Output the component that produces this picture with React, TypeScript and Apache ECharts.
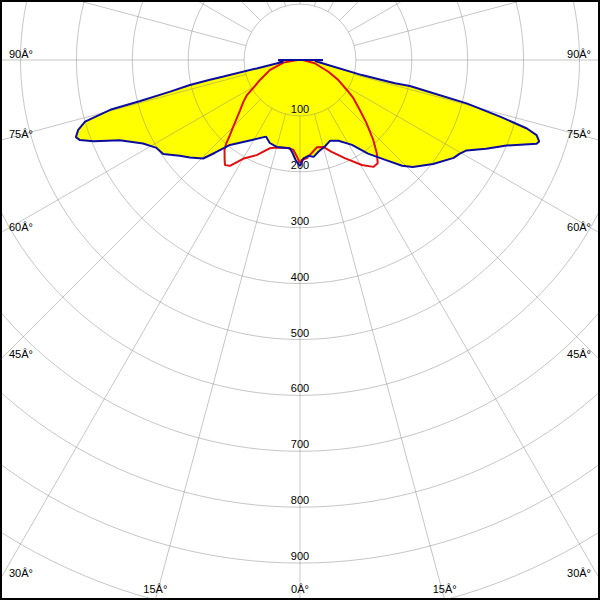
import React, { useEffect, useRef } from "react";
import * as echarts from "echarts";

// Radial (cd/klm) tick labels drawn along the 0° spoke
const radialTicks = [100, 200, 300, 400, 500, 600, 700, 800, 900];
// Angle labels written at the frame edge
const angleLabels = [0, 15, 30, 45, 60, 75, 90];
const degreeSuffix = "Â°";
// Spokes every 15°, starting at the 100 circle
const spokeAngles = Array.from({ length: 24 }, (_, i) => i * 15);
const spokeStart = 100;
const radiusMax = 1200;

// Blue curve (filled yellow) – left half: gamma (deg from nadir) and value
const blueLeftGamma = [0, 2.5, 5, 6.5, 15, 20, 24, 31, 39.5, 42.5, 44.5, 48.5, 51.5, 55.5, 58.5, 62, 66, 68.5, 70, 71, 72.5, 74, 75.3, 75.6, 76.3, 77.2, 77.6, 77.8, 79, 84, 90];
const blueLeftValue = [190, 179, 165, 159, 161, 158, 150, 167, 197, 225, 247, 263, 275, 297, 301, 318, 353, 397, 419, 424, 416, 400, 351, 295, 239, 202, 165, 140, 79, 30, 39];
// Blue curve – right half
const blueRightGamma = [0, 2, 5, 8, 11.5, 16, 20.5, 25.5, 31.5, 36, 40.5, 44, 46.5, 52, 57.5, 59.5, 61.5, 64.5, 67.5, 70.5, 71.2, 72.4, 73.2, 74.2, 75.4, 76, 76.7, 76.2, 76.3, 80, 86, 90];
const blueRightValue = [190, 176, 172, 175, 167, 161, 154, 160, 178, 207, 235, 263, 278, 302, 326, 331, 339, 369, 400, 449, 452, 444, 424, 372, 308, 246, 202, 175, 114, 51, 27, 41];

// Red curve – left half
const redLeftGamma = [0, 2, 4.3, 8.6, 15, 19, 24.5, 30, 33.5, 35.5, 37, 40, 41.5, 43, 46, 50, 53.5, 56.5, 59, 63.5, 71.5, 81, 90];
const redLeftValue = [184, 172, 161, 159, 162, 167, 187, 204, 227, 231, 224, 210, 199, 184, 162, 140, 126, 114, 98, 80, 57, 30, 5];
// Red curve – right half
const redRightGamma = [0, 1, 4, 7, 11, 15, 19, 24.5, 30.5, 34.5, 37, 39.5, 42.5, 46.5, 50, 54.5, 57.5, 62.5, 67.5, 77.5, 90];
const redRightValue = [184, 179, 176, 168, 159, 161, 174, 193, 218, 232, 231, 216, 194, 164, 140, 117, 99, 77, 55, 27, 5];

// polar data items are [radius value, angle value]; left side angle = gamma, right side = 360 - gamma
function buildPath(
  lg: number[], lv: number[], rg: number[], rv: number[], throughCenter: boolean
): number[][] {
  const pts: number[][] = [];
  for (let i = 0; i < lg.length; i++) pts.push([lv[i], lg[i]]);
  if (throughCenter) pts.push([0, 90]);
  for (let i = rg.length - 1; i >= 0; i--) pts.push([rv[i], 360 - rg[i]]);
  return pts;
}

const W = 600;
const H = 600;
const CX = 300;
const CY = 60;
const R_OUT = 670.8;
const FONT = "11px 'Liberation Sans', Arial, sans-serif";
const GRID = "rgba(128,128,128,0.45)";

export default function App() {
  const ref = useRef<HTMLDivElement>(null);

  useEffect(() => {
    const chart = echarts.init(ref.current!, null, { renderer: "svg" });
    const bluePath = buildPath(blueLeftGamma, blueLeftValue, blueRightGamma, blueRightValue, true);
    const redPath = buildPath(redLeftGamma, redLeftValue, redRightGamma, redRightValue, false);

    // angle labels at the frame edges
    const texts: any[] = [];
    angleLabels.forEach((g) => {
      const sides = g === 0 ? [0] : [-1, 1];
      sides.forEach((side) => {
        const rad = (g * Math.PI) / 180;
        const dx = Math.sin(rad);
        const dy = Math.cos(rad);
        const tSide = dx > 1e-9 ? W / 2 / dx : Infinity;
        const tBottom = dy > 1e-9 ? (H - CY) / dy : Infinity;
        let x: number, y: number, align: string;
        if (tSide <= tBottom) {
          x = side < 0 ? 9 : W - 9;
          y = CY + tSide * dy - 6.5;
          align = side < 0 ? "left" : "right";
        } else {
          x = CX + side * tBottom * dx;
          y = H - 11;
          align = "center";
        }
        texts.push({
          type: "text",
          x,
          y,
          z: 10,
          style: { text: g + degreeSuffix, font: FONT, fill: "#000", align, verticalAlign: "middle" },
        });
      });
    });

    chart.setOption({
      animation: false,
      backgroundColor: "#ffffff",
      polar: { center: [CX, CY], radius: [0, R_OUT] },
      angleAxis: {
        type: "value",
        min: 0,
        max: 360,
        interval: 15,
        startAngle: 270,
        clockwise: true,
        z: 1,
        axisLine: { show: false },
        axisTick: { show: false },
        axisLabel: { show: false },
        splitLine: { show: false },
      },
      radiusAxis: {
        type: "value",
        min: 0,
        max: radiusMax,
        interval: 100,
        z: 1,
        axisLine: { show: false },
        axisTick: { show: false },
        axisLabel: { show: false },
        splitLine: { show: true, lineStyle: { color: GRID, width: 1 } },
      },
      series: [
        {
          type: "custom",
          coordinateSystem: "polar",
          z: 0,
          silent: true,
          data: [[0, 0]],
          renderItem: (_p: any, api: any) => ({
            type: "polygon",
            shape: { points: bluePath.map((p) => api.coord(p).slice(0, 2)) },
            style: { fill: "#ffff00", stroke: "none" },
          }),
        },
        {
          type: "custom",
          coordinateSystem: "polar",
          z: 1,
          silent: true,
          data: spokeAngles.map((a) => [spokeStart, a]),
          renderItem: (_p: any, api: any) => {
            const a = api.value(1);
            const p0 = api.coord([spokeStart, a]);
            const p1 = api.coord([radiusMax, a]);
            return {
              type: "line",
              shape: { x1: p0[0], y1: p0[1], x2: p1[0], y2: p1[1] },
              style: { stroke: GRID, lineWidth: 1 },
            };
          },
        },
        {
          type: "custom",
          coordinateSystem: "polar",
          z: 2,
          silent: true,
          data: radialTicks.map((v) => [v, 0]),
          renderItem: (_p: any, api: any) => {
            const v = api.value(0);
            const p = api.coord([v, 0]);
            return {
              type: "text",
              x: p[0],
              y: p[1] - 7,
              style: { text: String(v), font: FONT, fill: "#000", align: "center", verticalAlign: "middle" },
            };
          },
        },
        {
          type: "line",
          coordinateSystem: "polar",
          z: 3,
          clip: false,
          symbol: "none",
          smooth: false,
          data: redPath,
          lineStyle: { color: "#e01010", width: 2 },
        },
        {
          type: "line",
          coordinateSystem: "polar",
          z: 4,
          clip: false,
          symbol: "none",
          smooth: false,
          data: bluePath,
          lineStyle: { color: "#0c0ca0", width: 2 },
        },
      ],
      graphic: [
        {
          type: "rect",
          z: 20,
          shape: { x: 1, y: 1, width: W - 2, height: H - 2 },
          style: { fill: "none", stroke: "#000", lineWidth: 2 },
        },
        ...texts,
      ],
    });
    return () => chart.dispose();
  }, []);

  return (
    <div
      ref={ref}
      style={{ position: "fixed", left: 0, top: 0, width: W, height: H, background: "#fff" }}
    />
  );
}
